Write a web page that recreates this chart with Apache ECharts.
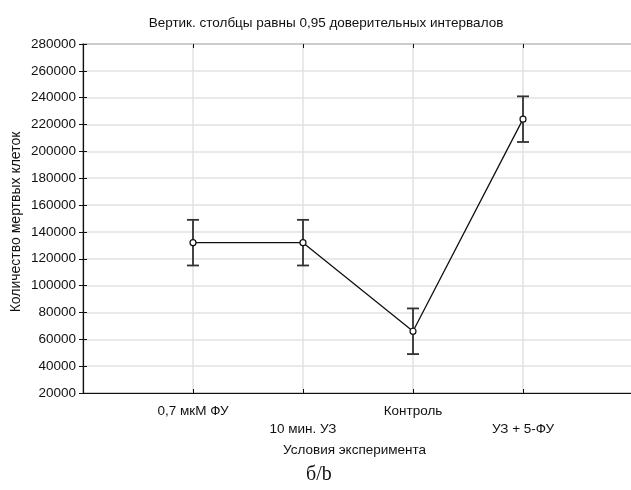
<!DOCTYPE html>
<html>
<head>
<meta charset="utf-8">
<script src="https://cdn.jsdelivr.net/npm/echarts@6/dist/echarts.min.js"></script>
<style>html,body{margin:0;padding:0;background:#fff;overflow:hidden}#c{width:640px;height:490px}</style>
</head>
<body>
<div id="c"></div>
<script>
var categories = ['0,7 мкМ ФУ', '10 мин. УЗ', 'Контроль', 'УЗ + 5-ФУ'];
var xPositions = [1, 2, 3, 4];
var means = [132000, 132000, 66000, 224000];
var lower = [115000, 115000, 49000, 207000];
var upper = [149000, 149000, 83000, 241000];
var yTicks = { min: 20000, max: 280000, interval: 20000 };

var lineData = xPositions.map(function (x, i) { return [x, means[i]]; });
var errData = xPositions.map(function (x, i) { return [x, lower[i], upper[i]]; });

var chart = echarts.init(document.getElementById('c'));
var font = 'Liberation Sans, Arial, sans-serif';
var tickStyle = { show: true, inside: true, length: 4, lineStyle: { color: '#111' } };
chart.setOption({
  animation: false,
  title: {
    text: 'Вертик. столбцы равны 0,95 доверительных интервалов',
    left: 321, top: 11, textAlign: 'center',
    textStyle: { fontFamily: font, fontSize: 13.5, fontWeight: 'normal', color: '#111' }
  },
  grid: { left: 83, top: 44, bottom: 97, right: 7, show: true, borderColor: '#111', borderWidth: 1.2, backgroundColor: 'transparent' },
  xAxis: [{
    type: 'value', min: 0, max: 5, interval: 1,
    axisLine: { show: true, lineStyle: { color: '#111', width: 1.2 } },
    axisTick: tickStyle,
    splitLine: { show: true, lineStyle: { color: '#e2e2e2', width: 1.5 } },
    axisLabel: {
      margin: 9, fontFamily: font, fontSize: 13.5, color: '#111', lineHeight: 18,
      formatter: function (v) {
        var i = xPositions.indexOf(v);
        if (i < 0) return '';
        return (i % 2 === 1 ? '\n' : '') + categories[i];
      }
    }
  }, {
    type: 'value', position: 'top', min: 0, max: 5, interval: 1,
    axisLine: { show: false }, axisTick: tickStyle, splitLine: { show: false }, axisLabel: { show: false }
  }],
  yAxis: [{
    type: 'value', min: yTicks.min, max: yTicks.max, interval: yTicks.interval,
    axisLine: { show: true, lineStyle: { color: '#111', width: 1.2 } },
    axisTick: tickStyle,
    splitLine: { show: true, lineStyle: { color: '#e2e2e2', width: 1.5 } },
    axisLabel: { margin: 7, fontFamily: font, fontSize: 13.5, color: '#111', formatter: function (v) { return String(v); } }
  }, {
    type: 'value', position: 'right', min: yTicks.min, max: yTicks.max, interval: yTicks.interval,
    axisLine: { show: false }, axisTick: tickStyle, splitLine: { show: false }, axisLabel: { show: false }
  }],
  graphic: [
    { type: 'text', left: 283, top: 443, style: { text: 'Условия эксперимента', font: '13.5px ' + font, fill: '#111' } },
    { type: 'text', x: 16, y: 222, rotation: Math.PI / 2, style: { text: 'Количество мертвых клеток', font: '14px ' + font, fill: '#111', align: 'center', verticalAlign: 'middle' } },
    { type: 'text', left: 306, top: 465, style: { text: 'б/b', font: '20px "Liberation Serif", "Times New Roman", serif', fill: '#111' } }
  ],
  series: [
    {
      type: 'custom',
      data: errData,
      z: 3,
      renderItem: function (params, api) {
        var x = api.value(0);
        var lo = api.coord([x, api.value(1)]);
        var hi = api.coord([x, api.value(2)]);
        var w = 6;
        var st = { stroke: '#333', lineWidth: 1.8 };
        return {
          type: 'group',
          children: [
            { type: 'line', shape: { x1: lo[0], y1: lo[1], x2: hi[0], y2: hi[1] }, style: st },
            { type: 'line', shape: { x1: lo[0] - w, y1: lo[1], x2: lo[0] + w, y2: lo[1] }, style: st },
            { type: 'line', shape: { x1: hi[0] - w, y1: hi[1], x2: hi[0] + w, y2: hi[1] }, style: st }
          ]
        };
      }
    },
    {
      type: 'line',
      data: lineData,
      z: 4,
      symbol: 'circle', symbolSize: 6,
      itemStyle: { color: '#fff', borderColor: '#111', borderWidth: 1.2 },
      lineStyle: { color: '#111', width: 1.3 }
    }
  ]
});
</script>
</body>
</html>
